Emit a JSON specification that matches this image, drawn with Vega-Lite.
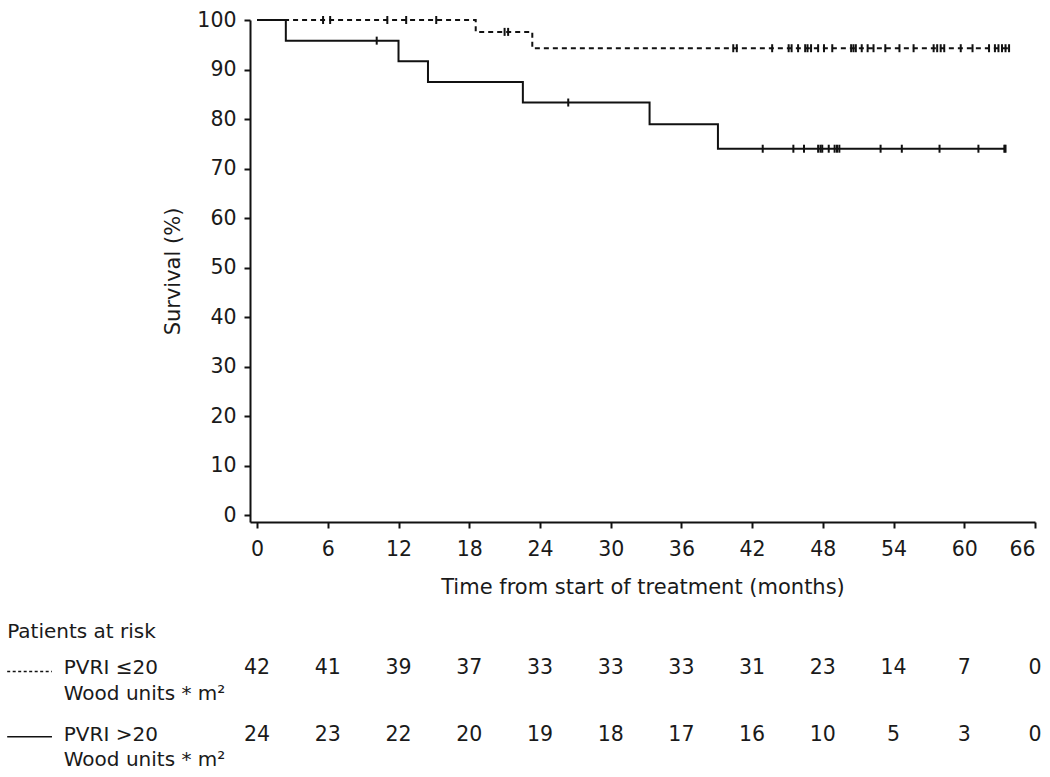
{
  "$schema": "https://vega.github.io/schema/vega-lite/v6.json",
  "width": 785,
  "height": 502,
  "autosize": {"type": "none"},
  "padding": {"left": 250, "top": 20, "right": 15, "bottom": 255},
  "background": "white",
  "config": {
    "view": {"stroke": null},
    "font": "DejaVu Sans",
    "axis": {
      "domainColor": "#111", "domainWidth": 2, "tickColor": "#111", "tickWidth": 2, "tickSize": 6,
      "labelFont": "DejaVu Sans", "labelFontSize": 20.5, "labelColor": "#1a1a1a",
      "titleFont": "DejaVu Sans", "titleFontSize": 21, "titleFontWeight": "normal", "titleColor": "#1a1a1a",
      "grid": false
    },
    "text": {"font": "DejaVu Sans", "color": "#1a1a1a"}
  },
  "datasets": {
    "curve": [
      {"group": "high", "time": 0, "surv": 100},
      {"group": "high", "time": 2.44, "surv": 95.83},
      {"group": "high", "time": 12.0, "surv": 91.67},
      {"group": "high", "time": 14.5, "surv": 87.5},
      {"group": "high", "time": 22.55, "surv": 83.33},
      {"group": "high", "time": 33.3, "surv": 78.95},
      {"group": "high", "time": 39.1, "surv": 74.0},
      {"group": "high", "time": 63.5, "surv": 74.0},
      {"group": "low", "time": 0, "surv": 100},
      {"group": "low", "time": 18.55, "surv": 97.6},
      {"group": "low", "time": 23.35, "surv": 94.3},
      {"group": "low", "time": 63.8, "surv": 94.3}
    ],
    "censor": [
      {"group": "high", "time": 10.15, "surv": 95.83},
      {"group": "high", "time": 26.4, "surv": 83.33},
      {"group": "high", "time": 42.9, "surv": 74.0},
      {"group": "high", "time": 45.5, "surv": 74.0},
      {"group": "high", "time": 46.4, "surv": 74.0},
      {"group": "high", "time": 47.6, "surv": 74.0},
      {"group": "high", "time": 47.8, "surv": 74.0},
      {"group": "high", "time": 47.95, "surv": 74.0},
      {"group": "high", "time": 48.5, "surv": 74.0},
      {"group": "high", "time": 49.0, "surv": 74.0},
      {"group": "high", "time": 49.2, "surv": 74.0},
      {"group": "high", "time": 49.4, "surv": 74.0},
      {"group": "high", "time": 52.9, "surv": 74.0},
      {"group": "high", "time": 54.7, "surv": 74.0},
      {"group": "high", "time": 57.9, "surv": 74.0},
      {"group": "high", "time": 61.2, "surv": 74.0},
      {"group": "high", "time": 63.4, "surv": 74.0},
      {"group": "high", "time": 63.5, "surv": 74.0},
      {"group": "low", "time": 5.6, "surv": 100},
      {"group": "low", "time": 6.2, "surv": 100},
      {"group": "low", "time": 11.05, "surv": 100},
      {"group": "low", "time": 12.65, "surv": 100},
      {"group": "low", "time": 15.2, "surv": 100},
      {"group": "low", "time": 21.0, "surv": 97.6},
      {"group": "low", "time": 21.3, "surv": 97.6},
      {"group": "low", "time": 40.4, "surv": 94.3},
      {"group": "low", "time": 40.7, "surv": 94.3},
      {"group": "low", "time": 43.7, "surv": 94.3},
      {"group": "low", "time": 45.1, "surv": 94.3},
      {"group": "low", "time": 45.35, "surv": 94.3},
      {"group": "low", "time": 45.9, "surv": 94.3},
      {"group": "low", "time": 46.5, "surv": 94.3},
      {"group": "low", "time": 46.7, "surv": 94.3},
      {"group": "low", "time": 47.0, "surv": 94.3},
      {"group": "low", "time": 47.6, "surv": 94.3},
      {"group": "low", "time": 48.1, "surv": 94.3},
      {"group": "low", "time": 48.8, "surv": 94.3},
      {"group": "low", "time": 50.4, "surv": 94.3},
      {"group": "low", "time": 50.6, "surv": 94.3},
      {"group": "low", "time": 50.8, "surv": 94.3},
      {"group": "low", "time": 51.3, "surv": 94.3},
      {"group": "low", "time": 51.8, "surv": 94.3},
      {"group": "low", "time": 52.3, "surv": 94.3},
      {"group": "low", "time": 53.3, "surv": 94.3},
      {"group": "low", "time": 54.5, "surv": 94.3},
      {"group": "low", "time": 55.7, "surv": 94.3},
      {"group": "low", "time": 57.4, "surv": 94.3},
      {"group": "low", "time": 57.7, "surv": 94.3},
      {"group": "low", "time": 58.0, "surv": 94.3},
      {"group": "low", "time": 58.3, "surv": 94.3},
      {"group": "low", "time": 59.7, "surv": 94.3},
      {"group": "low", "time": 60.7, "surv": 94.3},
      {"group": "low", "time": 62.1, "surv": 94.3},
      {"group": "low", "time": 62.6, "surv": 94.3},
      {"group": "low", "time": 62.9, "surv": 94.3},
      {"group": "low", "time": 63.2, "surv": 94.3},
      {"group": "low", "time": 63.5, "surv": 94.3},
      {"group": "low", "time": 63.8, "surv": 94.3}
    ],
    "risk": [
      {"group": "low", "time": 0, "n": 42}, {"group": "low", "time": 6, "n": 41}, {"group": "low", "time": 12, "n": 39},
      {"group": "low", "time": 18, "n": 37}, {"group": "low", "time": 24, "n": 33}, {"group": "low", "time": 30, "n": 33},
      {"group": "low", "time": 36, "n": 33}, {"group": "low", "time": 42, "n": 31}, {"group": "low", "time": 48, "n": 23},
      {"group": "low", "time": 54, "n": 14}, {"group": "low", "time": 60, "n": 7}, {"group": "low", "time": 66, "n": 0},
      {"group": "high", "time": 0, "n": 24}, {"group": "high", "time": 6, "n": 23}, {"group": "high", "time": 12, "n": 22},
      {"group": "high", "time": 18, "n": 20}, {"group": "high", "time": 24, "n": 19}, {"group": "high", "time": 30, "n": 18},
      {"group": "high", "time": 36, "n": 17}, {"group": "high", "time": 42, "n": 16}, {"group": "high", "time": 48, "n": 10},
      {"group": "high", "time": 54, "n": 5}, {"group": "high", "time": 60, "n": 3}, {"group": "high", "time": 66, "n": 0}
    ]
  },
  "encoding": {
    "x": {
      "type": "quantitative",
      "scale": {"domain": [-0.6, 66], "nice": false, "zero": false},
      "axis": {"values": [0, 6, 12, 18, 24, 30, 36, 42, 48, 54, 60, 66], "title": "Time from start of treatment (months)", "labelPadding": 11, "titlePadding": 17}
    },
    "y": {
      "type": "quantitative",
      "scale": {"domain": [-1.4, 100], "nice": false, "zero": false},
      "axis": {"values": [0, 10, 20, 30, 40, 50, 60, 70, 80, 90, 100], "title": "Survival (%)", "labelPadding": 8, "titlePadding": 13}
    }
  },
  "layer": [
    {
      "data": {"name": "curve"},
      "transform": [{"filter": "datum.group === 'high'"}],
      "mark": {"type": "line", "interpolate": "step-after", "color": "#111", "strokeWidth": 2},
      "encoding": {"x": {"field": "time", "type": "quantitative"}, "y": {"field": "surv", "type": "quantitative"}}
    },
    {
      "data": {"name": "curve"},
      "transform": [{"filter": "datum.group === 'low'"}],
      "mark": {"type": "line", "interpolate": "step-after", "color": "#111", "strokeWidth": 2, "strokeDash": [5, 4]},
      "encoding": {"x": {"field": "time", "type": "quantitative"}, "y": {"field": "surv", "type": "quantitative"}}
    },
    {
      "data": {"name": "censor"},
      "mark": {"type": "tick", "orient": "vertical", "color": "#111", "size": 8, "thickness": 2, "opacity": 1},
      "encoding": {"x": {"field": "time", "type": "quantitative"}, "y": {"field": "surv", "type": "quantitative"}}
    },
    {
      "data": {"name": "risk"},
      "transform": [{"filter": "datum.group === 'low'"}],
      "mark": {"type": "text", "fontSize": 20.5, "align": "center", "baseline": "alphabetic"},
      "encoding": {"x": {"field": "time", "type": "quantitative"}, "y": {"datum": -32.1, "type": "quantitative"}, "text": {"field": "n"}}
    },
    {
      "data": {"name": "risk"},
      "transform": [{"filter": "datum.group === 'high'"}],
      "mark": {"type": "text", "fontSize": 20.5, "align": "center", "baseline": "alphabetic"},
      "encoding": {"x": {"field": "time", "type": "quantitative"}, "y": {"datum": -45.7, "type": "quantitative"}, "text": {"field": "n"}}
    },
    {
      "data": {"values": [{}]},
      "mark": {"type": "text", "fontSize": 20, "align": "left", "baseline": "alphabetic", "text": "Patients at risk"},
      "encoding": {"x": {"datum": -21.2, "type": "quantitative"}, "y": {"datum": -24.8, "type": "quantitative"}}
    },
    {
      "data": {"values": [{}]},
      "mark": {"type": "text", "fontSize": 20, "align": "left", "baseline": "alphabetic", "text": "PVRI ≤20"},
      "encoding": {"x": {"datum": -16.4, "type": "quantitative"}, "y": {"datum": -32.1, "type": "quantitative"}}
    },
    {
      "data": {"values": [{}]},
      "mark": {"type": "text", "fontSize": 20, "align": "left", "baseline": "alphabetic", "text": "Wood units * m²"},
      "encoding": {"x": {"datum": -16.4, "type": "quantitative"}, "y": {"datum": -37.4, "type": "quantitative"}}
    },
    {
      "data": {"values": [{}]},
      "mark": {"type": "text", "fontSize": 20, "align": "left", "baseline": "alphabetic", "text": "PVRI >20"},
      "encoding": {"x": {"datum": -16.4, "type": "quantitative"}, "y": {"datum": -45.7, "type": "quantitative"}}
    },
    {
      "data": {"values": [{}]},
      "mark": {"type": "text", "fontSize": 20, "align": "left", "baseline": "alphabetic", "text": "Wood units * m²"},
      "encoding": {"x": {"datum": -16.4, "type": "quantitative"}, "y": {"datum": -50.7, "type": "quantitative"}}
    },
    {
      "data": {"values": [{}]},
      "mark": {"type": "rule", "color": "#111", "strokeWidth": 1.5, "strokeDash": [3, 2.5]},
      "encoding": {"x": {"datum": -21.2, "type": "quantitative"}, "x2": {"datum": -17.4}, "y": {"datum": -31.6, "type": "quantitative"}}
    },
    {
      "data": {"values": [{}]},
      "mark": {"type": "rule", "color": "#111", "strokeWidth": 1.5},
      "encoding": {"x": {"datum": -21.2, "type": "quantitative"}, "x2": {"datum": -17.4}, "y": {"datum": -44.8, "type": "quantitative"}}
    }
  ]
}
